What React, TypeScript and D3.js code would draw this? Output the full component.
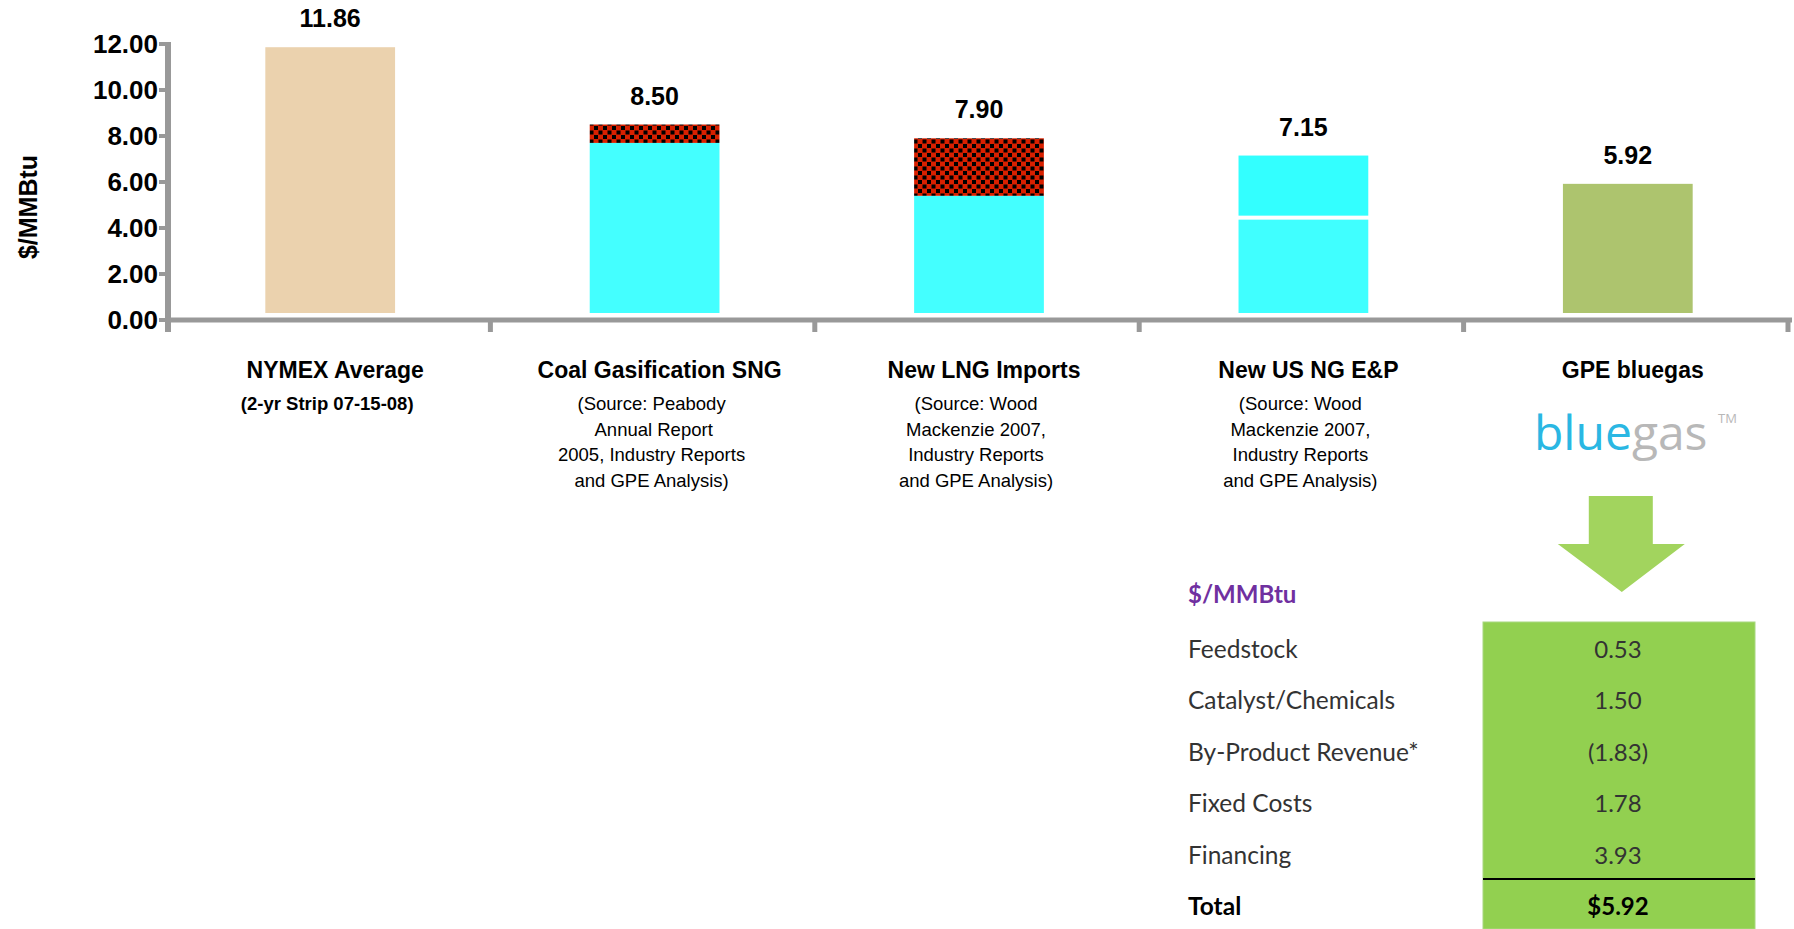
import React from "react";
import * as d3 from "d3";

const categories = ["NYMEX Average", "Coal Gasification SNG", "New LNG Imports", "New US NG E&P", "GPE bluegas"];
const baseValues = [11.86, 7.7, 5.4, 4.45, 5.92];
const topValues = [0, 0.8, 2.5, 2.7, 0];
const totals = [11.86, 8.5, 7.9, 7.15, 5.92];
const subtitles: string[][] = [
  ["(2-yr Strip 07-15-08)"],
  ["(Source: Peabody", " Annual Report", "2005, Industry Reports", "and GPE Analysis)"],
  ["(Source: Wood", "Mackenzie 2007,", "Industry Reports", "and GPE Analysis)"],
  ["(Source: Wood", "Mackenzie 2007,", "Industry Reports", "and GPE Analysis)"],
  [],
];
const yTicks = [0, 2, 4, 6, 8, 10, 12];
const tableLabels = ["Feedstock", "Catalyst/Chemicals", "By-Product Revenue*", "Fixed Costs", "Financing"];
const tableValues = ["0.53", "1.50", "(1.83)", "1.78", "3.93"];
const tableTotal = "$5.92";

const W = 1794;
const H = 929;
const baseColors = ["#EBD2AE", "#44FFFF", "#44FFFF", "#40FFFF", "#ADC46E"];
const topFills = ["none", "url(#checkRed)", "url(#checkRed)", "#33FFFF", "none"];

export default function App() {
  const x = d3.scaleBand<string>().domain(categories).range([168, 1790]).paddingInner(0.6).paddingOuter(0.3);
  const y = d3.scaleLinear().domain([0, 12]).range([320, 44]);
  const fmt = d3.format(".2f");
  const step = x.step();
  const bottomGap = 7;
  const sans = "'Liberation Sans', Arial, sans-serif";
  const tableFont = "Lato, 'Open Sans', sans-serif";
  const cx5 = (x(categories[4]) as number) + x.bandwidth() / 2;
  const tableTop = 622;
  const rowH = 51.4;
  const tblX0 = 1483, tblX1 = 1755;
  const valX = (tblX0 + tblX1) / 2 - 1;

  return (
    <svg width={W} height={H} style={{ position: "absolute", left: 0, top: 0, background: "#fff" }}>
      <defs>
        <pattern id="checkRed" width={9} height={9} patternUnits="userSpaceOnUse">
          <rect width={9} height={9} fill="#D82000" />
          <rect x={0} y={0} width={4} height={4} fill="#000" />
          <rect x={4.5} y={4.5} width={4} height={4} fill="#000" />
        </pattern>
      </defs>

      {/* y axis title */}
      <text transform={`translate(28,${207}) rotate(-90)`} textAnchor="middle" dominantBaseline="central"
        fontFamily={sans} fontWeight="bold" fontSize={25} fill="#000">$/MMBtu</text>

      {/* bars */}
      {categories.map((c, i) => {
        const bx = x(c) as number;
        const bw = x.bandwidth();
        const y0 = y(0) - bottomGap;
        const yb = y(baseValues[i]);
        const yt = y(baseValues[i] + topValues[i]);
        const sep = i === 3 ? 2 : 0;
        return (
          <g key={c}>
            <rect x={bx} y={yb + sep} width={bw} height={y0 - yb - sep} fill={baseColors[i]} />
            {topValues[i] > 0 && (
              <rect x={bx} y={yt} width={bw} height={yb - yt - sep} fill={topFills[i]} />
            )}
            <text x={bx + bw / 2} y={y(totals[i]) - 20} textAnchor="middle" fontFamily={sans}
              fontWeight="bold" fontSize={25} fill="#000">{fmt(totals[i])}</text>
          </g>
        );
      })}

      {/* axes */}
      <line x1={168} x2={168} y1={y(12) - 2} y2={y(0) + 12} stroke="#999" strokeWidth={6} />
      <line x1={165} x2={1792} y1={y(0)} y2={y(0)} stroke="#999" strokeWidth={5} />
      {yTicks.map((t) => (
        <g key={t}>
          <line x1={159} x2={166} y1={y(t)} y2={y(t)} stroke="#999" strokeWidth={4} />
          <text x={158} y={y(t)} textAnchor="end" dominantBaseline="central" fontFamily={sans}
            fontWeight="bold" fontSize={26} fill="#000">{fmt(t)}</text>
        </g>
      ))}
      {categories.map((c, i) => (
        <line key={"t" + i} x1={168 + step * (i + 1) - 2} x2={168 + step * (i + 1) - 2} y1={y(0)} y2={y(0) + 12}
          stroke="#999" strokeWidth={5} />
      ))}

      {/* category labels */}
      {categories.map((c, i) => {
        const cx = (x(c) as number) + x.bandwidth() / 2;
        return (
          <g key={"l" + i}>
            <text x={cx + 5} y={378} textAnchor="middle" fontFamily={sans} fontWeight="bold" fontSize={23} fill="#000">{c}</text>
            {subtitles[i].map((s, j) => (
              <text key={j} x={cx - 3} y={410 + j * 25.5} textAnchor="middle" fontFamily={sans}
                fontWeight={i === 0 ? "bold" : "normal"} fontSize={18.5} fill="#000"
                style={{ whiteSpace: "pre" }}>{s}</text>
            ))}
          </g>
        );
      })}

      {/* bluegas logo */}
      <text x={1534} y={450} fontFamily="'Open Sans', sans-serif" fontSize={48} fill="#2AB7E3">
        blue<tspan fill="#B8B8B8">gas</tspan>
      </text>
      <text x={1718} y={423} fontFamily="'Open Sans', sans-serif" fontSize={13} fill="#B8B8B8">TM</text>

      {/* arrow */}
      <polygon
        points={[
          [cx5 - 39, 496], [cx5 + 25, 496], [cx5 + 25, 544], [cx5 + 57, 544], [cx5 - 6, 592],
          [cx5 - 70, 544], [cx5 - 39, 544],
        ].map((p) => p.join(",")).join(" ")}
        fill="#A2D45E"
      />

      {/* table */}
      <text x={1188} y={603} fontFamily={tableFont} fontWeight="bold" fontSize={24} fill="#7030A0">$/MMBtu</text>
      <rect x={tblX0} y={tableTop} width={tblX1 - tblX0} height={H - tableTop} fill="#92D050" stroke="#A8D880" strokeWidth={1} />
      {tableLabels.map((l, i) => (
        <g key={l}>
          <text x={1188} y={658 + i * rowH} fontFamily={tableFont} fontSize={24.5} fill="#333">{l}</text>
          <text x={valX} y={658 + i * rowH} textAnchor="middle" fontFamily={tableFont} fontSize={24} fill="#333">{tableValues[i]}</text>
        </g>
      ))}
      <line x1={tblX0} x2={tblX1} y1={879} y2={879} stroke="#000" strokeWidth={2} />
      <text x={1188} y={915} fontFamily={tableFont} fontWeight="bold" fontSize={24.5} fill="#000">Total</text>
      <text x={valX} y={915} textAnchor="middle" fontFamily={tableFont} fontWeight="bold" fontSize={24} fill="#000">{tableTotal}</text>
    </svg>
  );
}
